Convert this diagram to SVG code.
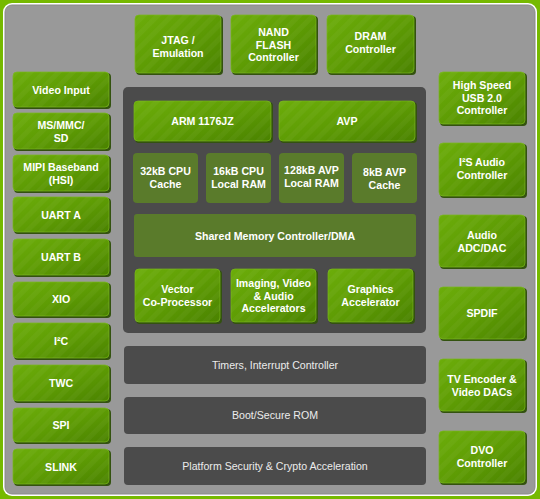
<svg xmlns="http://www.w3.org/2000/svg" width="540" height="499" viewBox="0 0 540 499">
<defs>
<linearGradient id="gg" x1="0" y1="0" x2="1" y2="1">
<stop offset="0" stop-color="#6cad0a"/>
<stop offset="0.5" stop-color="#5e9c04"/>
<stop offset="1" stop-color="#4a8200"/>
</linearGradient>
<pattern id="stripes" width="10" height="10" patternUnits="userSpaceOnUse" patternTransform="rotate(45)">
<rect x="0" y="0" width="5" height="10" fill="#ffffff" opacity="0.035"/>
</pattern>
<style>
.sh{fill:#33520f;}
.gb{fill:url(#gg);stroke:#78b81a;stroke-width:0.7;}
.st{fill:url(#stripes);}
.ol{fill:#5a7b2b;}
.db{fill:#4b4b4b;}
.t{font-family:"Liberation Sans",Arial,sans-serif;font-weight:bold;font-size:10.6px;fill:#ffffff;text-anchor:middle;}
.tr{font-family:"Liberation Sans",Arial,sans-serif;font-size:10.6px;fill:#ececec;text-anchor:middle;}
</style>
</defs>

<rect x="0" y="0" width="540" height="499" fill="#76b900"/>
<rect x="3" y="3" width="534" height="493" rx="9" fill="#ffffff"/>
<rect x="5" y="5" width="530" height="489" rx="7" fill="#999999" stroke="#8a8a8a" stroke-width="1"/>

<!-- top row -->
<g id="jtag"><rect class="sh" x="136" y="16" width="87" height="59" rx="4"/><rect class="gb" x="135" y="15" width="86" height="58" rx="4"/><rect class="st" x="135" y="15" width="86" height="58" rx="4"/><text class="t" x="178" y="44">JTAG /</text><text class="t" x="178" y="56.5">Emulation</text></g>
<g id="nand"><rect class="sh" x="232" y="16" width="86" height="59" rx="4"/><rect class="gb" x="231" y="15" width="85" height="58" rx="4"/><rect class="st" x="231" y="15" width="85" height="58" rx="4"/><text class="t" x="273.5" y="36">NAND</text><text class="t" x="273.5" y="48.5">FLASH</text><text class="t" x="273.5" y="61">Controller</text></g>
<g id="dram"><rect class="sh" x="328" y="16" width="88" height="59" rx="4"/><rect class="gb" x="327" y="15" width="87" height="58" rx="4"/><rect class="st" x="327" y="15" width="87" height="58" rx="4"/><text class="t" x="370.5" y="40">DRAM</text><text class="t" x="370.5" y="53">Controller</text></g>

<!-- left column -->
<g id="video-input"><rect class="sh" x="14" y="73" width="97" height="36" rx="4"/><rect class="gb" x="13" y="72" width="96" height="35" rx="4"/><rect class="st" x="13" y="72" width="96" height="35" rx="4"/><text class="t" x="61" y="94">Video Input</text></g>
<g id="ms-mmc-sd"><rect class="sh" x="14" y="114" width="97" height="37" rx="4"/><rect class="gb" x="13" y="113" width="96" height="36" rx="4"/><rect class="st" x="13" y="113" width="96" height="36" rx="4"/><text class="t" x="61" y="129">MS/MMC/</text><text class="t" x="61" y="141.5">SD</text></g>
<g id="mipi"><rect class="sh" x="14" y="156" width="97" height="37" rx="4"/><rect class="gb" x="13" y="155" width="96" height="36" rx="4"/><rect class="st" x="13" y="155" width="96" height="36" rx="4"/><text class="t" x="61" y="171">MIPI Baseband</text><text class="t" x="61" y="183.5">(HSI)</text></g>
<g id="uart-a"><rect class="sh" x="14" y="198" width="97" height="36" rx="4"/><rect class="gb" x="13" y="197" width="96" height="35" rx="4"/><rect class="st" x="13" y="197" width="96" height="35" rx="4"/><text class="t" x="61" y="219">UART A</text></g>
<g id="uart-b"><rect class="sh" x="14" y="240" width="97" height="37" rx="4"/><rect class="gb" x="13" y="239" width="96" height="36" rx="4"/><rect class="st" x="13" y="239" width="96" height="36" rx="4"/><text class="t" x="61" y="261">UART B</text></g>
<g id="xio"><rect class="sh" x="14" y="283" width="97" height="35" rx="4"/><rect class="gb" x="13" y="282" width="96" height="34" rx="4"/><rect class="st" x="13" y="282" width="96" height="34" rx="4"/><text class="t" x="61" y="303">XIO</text></g>
<g id="i2c"><rect class="sh" x="14" y="324" width="97" height="36" rx="4"/><rect class="gb" x="13" y="323" width="96" height="35" rx="4"/><rect class="st" x="13" y="323" width="96" height="35" rx="4"/><text class="t" x="61" y="345">I²C</text></g>
<g id="twc"><rect class="sh" x="14" y="366" width="97" height="37" rx="4"/><rect class="gb" x="13" y="365" width="96" height="36" rx="4"/><rect class="st" x="13" y="365" width="96" height="36" rx="4"/><text class="t" x="61" y="387">TWC</text></g>
<g id="spi"><rect class="sh" x="14" y="409" width="97" height="35" rx="4"/><rect class="gb" x="13" y="408" width="96" height="34" rx="4"/><rect class="st" x="13" y="408" width="96" height="34" rx="4"/><text class="t" x="61" y="429">SPI</text></g>
<g id="slink"><rect class="sh" x="14" y="450" width="97" height="36" rx="4"/><rect class="gb" x="13" y="449" width="96" height="35" rx="4"/><rect class="st" x="13" y="449" width="96" height="35" rx="4"/><text class="t" x="61" y="471">SLINK</text></g>

<!-- right column -->
<g id="usb"><rect class="sh" x="440" y="73" width="87" height="53" rx="4"/><rect class="gb" x="439" y="72" width="86" height="52" rx="4"/><rect class="st" x="439" y="72" width="86" height="52" rx="4"/><text class="t" x="482" y="89">High Speed</text><text class="t" x="482" y="101.5">USB 2.0</text><text class="t" x="482" y="114">Controller</text></g>
<g id="i2s"><rect class="sh" x="440" y="144" width="87" height="54" rx="4"/><rect class="gb" x="439" y="143" width="86" height="53" rx="4"/><rect class="st" x="439" y="143" width="86" height="53" rx="4"/><text class="t" x="482" y="166">I²S Audio</text><text class="t" x="482" y="178.5">Controller</text></g>
<g id="audio-adc"><rect class="sh" x="440" y="216" width="87" height="53" rx="4"/><rect class="gb" x="439" y="215" width="86" height="52" rx="4"/><rect class="st" x="439" y="215" width="86" height="52" rx="4"/><text class="t" x="482" y="239">Audio</text><text class="t" x="482" y="251.5">ADC/DAC</text></g>
<g id="spdif"><rect class="sh" x="440" y="288" width="87" height="53" rx="4"/><rect class="gb" x="439" y="287" width="86" height="52" rx="4"/><rect class="st" x="439" y="287" width="86" height="52" rx="4"/><text class="t" x="482" y="317">SPDIF</text></g>
<g id="tv-encoder"><rect class="sh" x="440" y="360" width="87" height="53" rx="4"/><rect class="gb" x="439" y="359" width="86" height="52" rx="4"/><rect class="st" x="439" y="359" width="86" height="52" rx="4"/><text class="t" x="482" y="383">TV Encoder &amp;</text><text class="t" x="482" y="395.5">Video DACs</text></g>
<g id="dvo"><rect class="sh" x="440" y="432" width="87" height="53" rx="4"/><rect class="gb" x="439" y="431" width="86" height="52" rx="4"/><rect class="st" x="439" y="431" width="86" height="52" rx="4"/><text class="t" x="482" y="454">DVO</text><text class="t" x="482" y="466.5">Controller</text></g>

<!-- core -->
<g id="core"><rect class="db" x="123" y="87" width="303" height="246" rx="5"/></g>
<g id="arm"><rect class="sh" x="135" y="102" width="138" height="41" rx="4"/><rect class="gb" x="134" y="101" width="137" height="40" rx="4"/><rect class="st" x="134" y="101" width="137" height="40" rx="4"/><text class="t" x="202.5" y="125">ARM 1176JZ</text></g>
<g id="avp"><rect class="sh" x="280" y="102" width="137" height="41" rx="4"/><rect class="gb" x="279" y="101" width="136" height="40" rx="4"/><rect class="st" x="279" y="101" width="136" height="40" rx="4"/><text class="t" x="347" y="125">AVP</text></g>
<g id="cpu-cache"><rect class="ol" x="133" y="153" width="65" height="50" rx="4"/><text class="t" x="165.5" y="175">32kB CPU</text><text class="t" x="165.5" y="187.5">Cache</text></g>
<g id="cpu-ram"><rect class="ol" x="206" y="153" width="65" height="50" rx="4"/><text class="t" x="238.5" y="175">16kB CPU</text><text class="t" x="238.5" y="187.5">Local RAM</text></g>
<g id="avp-ram"><rect class="ol" x="279" y="153" width="65" height="50" rx="4"/><text class="t" x="311.5" y="174">128kB AVP</text><text class="t" x="311.5" y="186.5">Local RAM</text></g>
<g id="avp-cache"><rect class="ol" x="352" y="153" width="65" height="50" rx="4"/><text class="t" x="384.5" y="176">8kB AVP</text><text class="t" x="384.5" y="188.5">Cache</text></g>
<g id="shared-mem"><rect class="ol" x="134" y="214" width="282" height="43" rx="3"/><text class="t" x="275" y="240">Shared Memory Controller/DMA</text></g>
<g id="vector"><rect class="sh" x="136" y="270" width="86" height="54" rx="4"/><rect class="gb" x="135" y="269" width="85" height="53" rx="4"/><rect class="st" x="135" y="269" width="85" height="53" rx="4"/><text class="t" x="177.5" y="293">Vector</text><text class="t" x="177.5" y="305.5">Co-Processor</text></g>
<g id="imaging"><rect class="sh" x="232" y="270" width="86" height="54" rx="4"/><rect class="gb" x="231" y="269" width="85" height="53" rx="4"/><rect class="st" x="231" y="269" width="85" height="53" rx="4"/><text class="t" x="273.5" y="287">Imaging, Video</text><text class="t" x="273.5" y="299.5">&amp; Audio</text><text class="t" x="273.5" y="312">Accelerators</text></g>
<g id="graphics"><rect class="sh" x="329" y="270" width="86" height="54" rx="4"/><rect class="gb" x="328" y="269" width="85" height="53" rx="4"/><rect class="st" x="328" y="269" width="85" height="53" rx="4"/><text class="t" x="370.5" y="293">Graphics</text><text class="t" x="370.5" y="305.5">Accelerator</text></g>

<!-- gray bars -->
<g id="timers"><rect class="db" x="124" y="346" width="302" height="38" rx="4"/><text class="tr" x="275" y="368.5">Timers, Interrupt Controller</text></g>
<g id="boot-rom"><rect class="db" x="124" y="397" width="302" height="37" rx="4"/><text class="tr" x="275" y="419">Boot/Secure ROM</text></g>
<g id="platform-security"><rect class="db" x="124" y="447" width="302" height="38" rx="4"/><text class="tr" x="275" y="470">Platform Security &amp; Crypto Acceleration</text></g>
</svg>
